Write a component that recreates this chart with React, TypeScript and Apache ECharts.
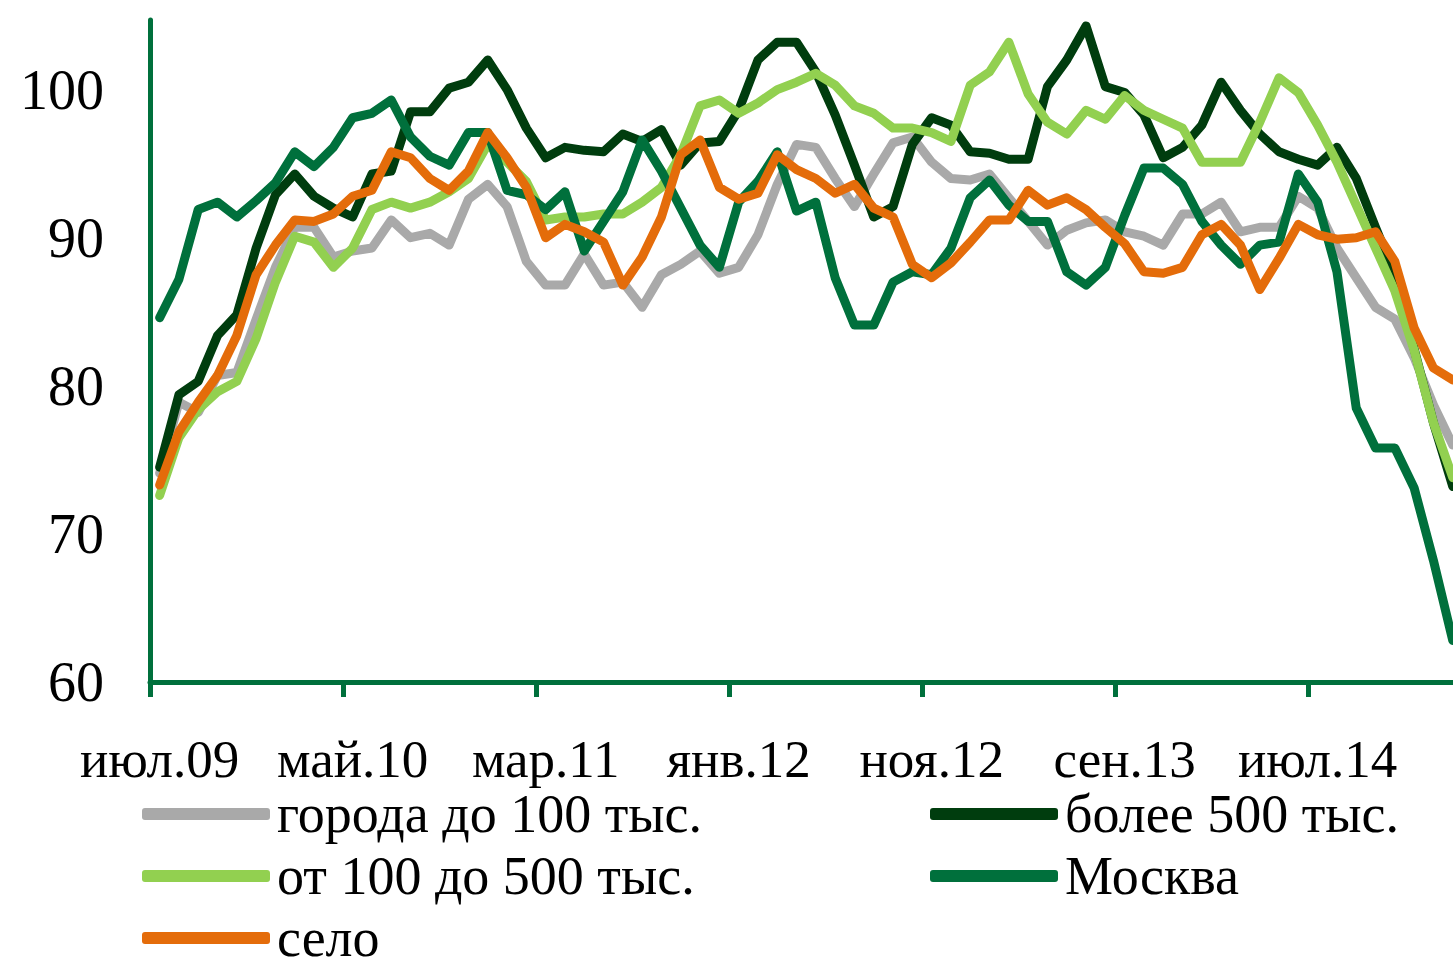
import React, { useEffect, useRef } from "react";
import * as echarts from "echarts";

const monthNames = ["янв.", "фев.", "мар.", "апр.", "май.", "июн.", "июл.", "авг.", "сен.", "окт.", "ноя.", "дек."];
// 68 months from июл.09 to фев.15
const categories: string[] = [];
for (let i = 0; i < 68; i++) {
  const m = (6 + i) % 12;
  const y = 9 + Math.floor((6 + i) / 12);
  categories.push(monthNames[m] + String(y).padStart(2, "0"));
}

const seriesNames = ["города до 100 тыс.", "более 500 тыс.", "от 100 до 500 тыс.", "Москва", "село"];

const gorodaDo100 = [
  74.1, 78.9, 78.2, 80.7, 80.9, 84.5, 88.0, 90.7, 90.7, 88.7,
  89.1, 89.3, 91.2, 90.0, 90.3, 89.5, 92.6, 93.6, 92.1, 88.4,
  86.8, 86.8, 88.9, 86.8, 87.0, 85.3, 87.5, 88.2, 89.1, 87.6,
  88.0, 90.2, 93.6, 96.3, 96.1, 94.0, 92.1, 94.3, 96.4, 96.8,
  95.1, 94.0, 93.9, 94.3, 92.7, 91.1, 89.5, 90.5, 91.0, 91.2,
  90.4, 90.1, 89.5, 91.6, 91.6, 92.4, 90.4, 90.7, 90.7, 92.8,
  92.0, 89.3, 87.3, 85.3, 84.5, 81.9, 78.7, 76.0,
];

const bolee500 = [
  74.5, 79.4, 80.3, 83.4, 84.8, 89.3, 92.9, 94.3, 92.8, 92.0,
  91.4, 94.3, 94.5, 98.5, 98.5, 100.1, 100.5, 102.0, 100.0, 97.4,
  95.4, 96.1, 95.9, 95.8, 97.0, 96.5, 97.3, 94.9, 96.4, 96.5,
  98.6, 102.0, 103.2, 103.2, 101.2, 98.3, 94.9, 91.4, 92.1, 96.3,
  98.1, 97.6, 95.8, 95.7, 95.3, 95.3, 100.2, 102.0, 104.3, 100.2,
  99.8, 98.3, 95.4, 96.1, 97.6, 100.5, 98.6, 97.0, 95.8, 95.3,
  94.9, 96.1, 94.0, 90.7, 87.5, 82.5, 77.5, 73.2,
];

const ot100do500 = [
  72.6, 76.5, 78.4, 79.6, 80.3, 83.2, 87.0, 90.1, 89.7, 88.0,
  89.3, 91.9, 92.4, 92.0, 92.4, 93.1, 94.0, 96.3, 95.1, 93.8,
  91.2, 91.4, 91.4, 91.6, 91.6, 92.4, 93.4, 95.6, 98.9, 99.3,
  98.4, 99.1, 100.0, 100.5, 101.1, 100.3, 98.9, 98.4, 97.4, 97.4,
  97.1, 96.5, 100.3, 101.2, 103.2, 99.7, 97.8, 97.0, 98.6, 98.0,
  99.6, 98.6, 98.0, 97.4, 95.1, 95.1, 95.1, 97.8, 100.8, 99.8,
  97.6, 95.1, 92.2, 89.3, 86.4, 82.4, 77.5, 73.8,
];

const moskva = [
  84.6, 87.2, 91.9, 92.4, 91.4, 92.5, 93.7, 95.8, 94.8, 96.1,
  98.1, 98.4, 99.3, 96.8, 95.5, 94.9, 97.1, 97.1, 93.2, 92.9,
  91.9, 93.1, 89.1, 91.1, 93.1, 96.6, 94.5, 92.0, 89.5, 88.0,
  92.4, 93.8, 95.8, 91.8, 92.4, 87.3, 84.1, 84.1, 87.0, 87.7,
  87.5, 89.3, 92.7, 93.9, 92.2, 91.1, 91.1, 87.7, 86.8, 88.0,
  91.5, 94.7, 94.7, 93.6, 91.1, 89.5, 88.2, 89.5, 89.7, 94.3,
  92.4, 87.7, 78.5, 75.8, 75.8, 73.1, 68.2, 62.8,
];

const selo = [
  73.3, 76.9, 78.9, 80.7, 83.4, 87.5, 89.5, 91.2, 91.1, 91.6,
  92.8, 93.2, 95.8, 95.4, 94.0, 93.2, 94.5, 97.1, 95.4, 93.4,
  90.0, 90.9, 90.4, 89.7, 86.8, 88.7, 91.4, 95.6, 96.6, 93.4,
  92.6, 93.0, 95.6, 94.6, 94.0, 93.0, 93.6, 92.0, 91.4, 88.2,
  87.3, 88.3, 89.7, 91.2, 91.2, 93.2, 92.2, 92.7, 91.9, 90.7,
  89.6, 87.7, 87.6, 88.0, 90.2, 90.9, 89.5, 86.5, 88.6, 90.9,
  90.2, 89.9, 90.0, 90.4, 88.4, 83.9, 81.2, 80.4,
];

const seriesData = [gorodaDo100, bolee500, ot100do500, moskva, selo];
const seriesColors = ["#a9a9a9", "#003d0e", "#92d050", "#00703c", "#e46c0a"];

const FONT = "'Liberation Serif', 'DejaVu Serif', serif";
const AXIS_GREEN = "#00703c";

export default function App() {
  const ref = useRef<HTMLDivElement>(null);

  useEffect(() => {
    if (!ref.current) return;
    const chart = echarts.init(ref.current, undefined, { renderer: "svg" });
    const legendText = {
      fontFamily: FONT,
      fontSize: 54,
      color: "#000",
      lineHeight: 52,
      padding: [0, 0, 0, 2],
    };
    const legendBase = {
      orient: "vertical",
      top: 782,
      height: 220,
      itemWidth: 128,
      itemHeight: 12,
      itemGap: 8,
      icon: "roundRect",
      textStyle: legendText,
      selectedMode: false,
    };
    chart.setOption({
      animation: false,
      backgroundColor: "#ffffff",
      grid: { left: 150, top: 20, width: 1312.4, height: 662, containLabel: false },
      legend: [
        { ...legendBase, data: [seriesNames[0], seriesNames[2], seriesNames[4]], left: 137 },
        { ...legendBase, data: [seriesNames[1], seriesNames[3]], left: 925 },
      ],
      xAxis: {
        type: "category",
        data: categories,
        boundaryGap: true,
        axisLine: { show: true, lineStyle: { color: AXIS_GREEN, width: 5 } },
        axisTick: { show: true, interval: 9, length: 15, alignWithLabel: false, lineStyle: { color: AXIS_GREEN, width: 5 } },
        axisLabel: { interval: 9, fontFamily: FONT, fontSize: 53, color: "#000", margin: 50 },
        splitLine: { show: false },
      },
      yAxis: {
        type: "value",
        min: 60,
        max: 104.7,
        interval: 10,
        axisLine: { show: true, lineStyle: { color: AXIS_GREEN, width: 5 } },
        axisTick: { show: false },
        axisLabel: { fontFamily: FONT, fontSize: 56, color: "#000", margin: 46, showMaxLabel: false },
        splitLine: { show: false },
      },
      series: seriesNames.map((name, i) => ({
        name,
        type: "line",
        data: seriesData[i],
        symbol: "none",
        color: seriesColors[i],
        lineStyle: { color: seriesColors[i], width: 9, join: "round", cap: "round" },
        z: 2 + i,
      })),
    });
    return () => chart.dispose();
  }, []);

  return (
    <div style={{ position: "fixed", left: 0, top: 0, width: 1453, height: 968, overflow: "hidden", background: "#fff" }}>
      <div ref={ref} style={{ width: 1480, height: 1040 }} />
    </div>
  );
}
